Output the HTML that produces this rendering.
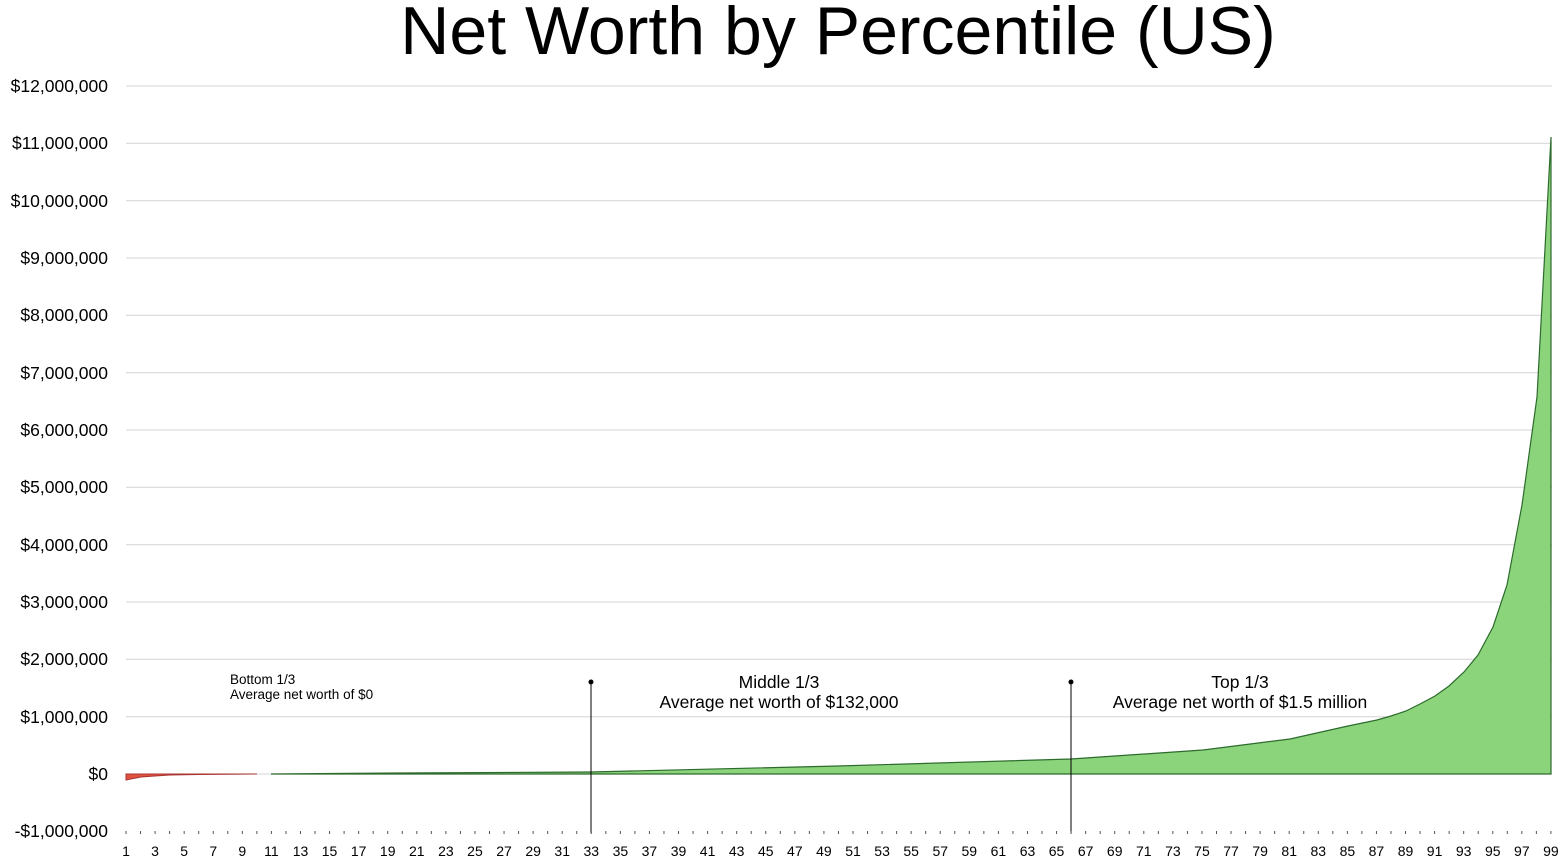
<!DOCTYPE html>
<html><head><meta charset="utf-8"><style>
body{margin:0;background:#fff;}
svg{display:block;font-family:"Liberation Sans",sans-serif;}
</style></head><body>
<svg width="1562" height="861" viewBox="0 0 1562 861">
<text x="838" y="54" font-size="68" text-anchor="middle" fill="#000">Net Worth by Percentile (US)</text>
<g stroke="#d4d4d4" stroke-width="1">
<line x1="126" x2="1552" y1="86" y2="86"/><line x1="126" x2="1552" y1="143.3" y2="143.3"/>
<line x1="126" x2="1552" y1="200.7" y2="200.7"/><line x1="126" x2="1552" y1="258" y2="258"/>
<line x1="126" x2="1552" y1="315.3" y2="315.3"/><line x1="126" x2="1552" y1="372.7" y2="372.7"/>
<line x1="126" x2="1552" y1="430" y2="430"/><line x1="126" x2="1552" y1="487.3" y2="487.3"/>
<line x1="126" x2="1552" y1="544.7" y2="544.7"/><line x1="126" x2="1552" y1="602" y2="602"/>
<line x1="126" x2="1552" y1="659.3" y2="659.3"/><line x1="126" x2="1552" y1="716.7" y2="716.7"/>
<line x1="126" x2="1552" y1="774" y2="774"/>
</g>
<g font-size="17.5" text-anchor="end" fill="#000">
<text x="108" y="92">$12,000,000</text><text x="108" y="149">$11,000,000</text>
<text x="108" y="207">$10,000,000</text><text x="108" y="264">$9,000,000</text>
<text x="108" y="321">$8,000,000</text><text x="108" y="379">$7,000,000</text>
<text x="108" y="436">$6,000,000</text><text x="108" y="493">$5,000,000</text>
<text x="108" y="551">$4,000,000</text><text x="108" y="608">$3,000,000</text>
<text x="108" y="665">$2,000,000</text><text x="108" y="723">$1,000,000</text>
<text x="108" y="780">$0</text><text x="108" y="837">-$1,000,000</text>
</g>
<path d="M126,774 L126,780 L141,777 L155,776 L170,775 L199,774.5 L257,774 Z" fill="#e0523f" stroke="#a33" stroke-width="1"/>
<path d="M271,774 L402,773 L591,772 L838,766 L1071,759 L1203,750 L1290,739 L1348,726 L1377,720 L1391,716 L1406,711 L1420,704 L1435,696 L1449,686 L1464,672 L1478,655 L1493,627 L1507,585 L1522,505 L1537,397 L1551,137 L1551,774 L271,774" fill="#8bd47b" stroke="#2d6b2d" stroke-width="1.2"/>
<g stroke="#000" stroke-width="1">
<line x1="591" y1="682" x2="591" y2="833"/><line x1="1071" y1="682" x2="1071" y2="833"/>
</g>
<circle cx="591" cy="682" r="2.5"/><circle cx="1071" cy="682" r="2.5"/>
<text x="230" y="684" font-size="13.5">Bottom 1/3</text>
<text x="230" y="699" font-size="13.5">Average net worth of $0</text>
<g font-size="17.5" text-anchor="middle">
<text x="779" y="688">Middle 1/3</text><text x="779" y="708">Average net worth of $132,000</text>
<text x="1240" y="688">Top 1/3</text><text x="1240" y="708">Average net worth of $1.5 million</text>
</g>
<g id="ticks" stroke="#555" stroke-width="1"></g>
<g id="xl" font-size="14" text-anchor="middle"></g>
<script>
var t=document.getElementById('ticks'),l=document.getElementById('xl'),ns='http://www.w3.org/2000/svg';
for(var p=1;p<=99;p++){var x=126+(p-1)*14.54;var e=document.createElementNS(ns,'line');e.setAttribute('x1',x);e.setAttribute('x2',x);e.setAttribute('y1',831);e.setAttribute('y2',834);t.appendChild(e);
if(p%2==1){var s=document.createElementNS(ns,'text');s.setAttribute('x',x);s.setAttribute('y',856);s.textContent=p;l.appendChild(s);}}
</script>
</svg>
</body></html>
